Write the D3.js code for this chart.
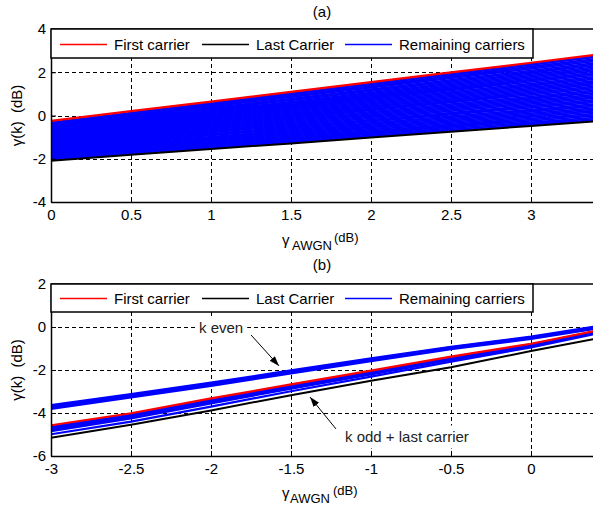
<!DOCTYPE html>
<html>
<head>
<meta charset="utf-8">
<script src="https://cdn.jsdelivr.net/npm/d3@7"></script>
<style>
  body { margin: 0; background: #fff; }
  svg { font-family: "Liberation Sans", Arial, sans-serif; }
</style>
</head>
<body>
<div id="chart"></div>
<script>
// ---- data ----
var legendLabels = ["First carrier", "Last Carrier", "Remaining carriers"];
var legendColors = ["#ff0000", "#000000", "#0000ff"];

// panel (a)
var topX = [0, 0.5, 1, 1.5, 2, 2.5, 3, 3.3875];
var topFirst = [-0.25, 0.2, 0.64, 1.09, 1.54, 1.99, 2.44, 2.79];
var topLast = [-2.09, -1.82, -1.55, -1.29, -1.02, -0.75, -0.48, -0.28];
// remaining carriers: value at x = 0 and at x = 3.3875
var topRemainingX = [0, 3.3875];
var topRemainingStart = [-2.05, -2.01, -1.97, -1.94, -1.90, -1.86, -1.83, -1.79, -1.75, -1.72,
  -1.68, -1.64, -1.61, -1.57, -1.53, -1.50, -1.46, -1.42, -1.39, -1.35,
  -1.31, -1.28, -1.24, -1.20, -1.17, -1.13, -1.09, -1.06, -1.02, -0.98,
  -0.95, -0.91, -0.87, -0.84, -0.80, -0.76, -0.73, -0.69, -0.65, -0.62,
  -0.58, -0.54, -0.51, -0.47, -0.43, -0.40, -0.36, -0.32];
var topRemainingEnd = [-0.22, -0.16, -0.10, -0.03, 0.03, 0.09, 0.16, 0.22, 0.28, 0.34,
  0.41, 0.47, 0.53, 0.60, 0.66, 0.72, 0.79, 0.85, 0.91, 0.97,
  1.04, 1.10, 1.16, 1.23, 1.29, 1.35, 1.42, 1.48, 1.54, 1.60,
  1.67, 1.73, 1.79, 1.86, 1.92, 1.98, 2.05, 2.11, 2.17, 2.23,
  2.30, 2.36, 2.42, 2.49, 2.55, 2.61, 2.68, 2.74];
var topXTicks = [0, 0.5, 1, 1.5, 2, 2.5, 3];
var topYTicks = [-4, -2, 0, 2, 4];

// panel (b)
var botX = [-3, -2.5, -2, -1.5, -1, -0.5, 0, 0.4];
var botFirst = [-4.57, -4.01, -3.32, -2.67, -2.03, -1.38, -0.78, -0.19];
var botLast = [-5.15, -4.55, -3.88, -3.17, -2.50, -1.87, -1.12, -0.55];
var botEven = [
  [-3.63, -3.12, -2.59, -2.02, -1.46, -0.92, -0.45, 0.02],
  [-3.69, -3.17, -2.64, -2.06, -1.50, -0.95, -0.48, -0.01],
  [-3.75, -3.22, -2.69, -2.11, -1.54, -0.99, -0.52, -0.05],
  [-3.81, -3.28, -2.74, -2.16, -1.59, -1.03, -0.55, -0.08]
];
var botOdd = [
  [-4.65, -4.08, -3.39, -2.73, -2.08, -1.42, -0.81, -0.21],
  [-4.70, -4.12, -3.43, -2.76, -2.11, -1.44, -0.83, -0.23],
  [-4.75, -4.16, -3.47, -2.80, -2.14, -1.47, -0.85, -0.24],
  [-4.80, -4.21, -3.51, -2.84, -2.18, -1.50, -0.88, -0.26],
  [-4.85, -4.25, -3.55, -2.87, -2.21, -1.53, -0.90, -0.28],
  [-4.99, -4.40, -3.70, -2.99, -2.31, -1.61, -0.95, -0.32]
];
var botXTicks = [-3, -2.5, -2, -1.5, -1, -0.5, 0];
var botYTicks = [-6, -4, -2, 0, 2];

// annotations in panel (b), data coordinates
var botNotes = [
  {text: "k even", tx: -2.075, ty: -0.28, x1: -1.75, y1: -0.37, x2: -1.575, y2: -1.81},
  {text: "k odd + last carrier", tx: -1.1625, ty: -5.37, x1: -1.219, y1: -4.74, x2: -1.381, y2: -3.26}
];

var svgWidth = 593;
var svgHeight = 510;

var svg = d3.select("#chart")
  .append("svg")
  .attr("width", svgWidth)
  .attr("height", svgHeight);

var defs = svg.append("defs");
defs.append("marker")
  .attr("id", "arrow")
  .attr("viewBox", "0 0 10 10")
  .attr("refX", 10)
  .attr("refY", 5)
  .attr("markerWidth", 10)
  .attr("markerHeight", 10)
  .attr("markerUnits", "userSpaceOnUse")
  .attr("orient", "auto")
  .append("path")
  .attr("d", "M0,1.5 L10,5 L0,8.5 Z")
  .attr("fill", "#000");

function drawPanel(p) {
  var left = 51, right = 593;
  var x = d3.scaleLinear().domain(p.xDomain).range([left, right]);
  var y = d3.scaleLinear().domain(p.yDomain).range([p.bottom, p.top]);

  var g = svg.append("g");

  defs.append("clipPath").attr("id", p.id + "clip")
    .append("rect")
    .attr("x", left).attr("y", p.top)
    .attr("width", right - left).attr("height", p.bottom - p.top);

  // title
  g.append("text")
    .attr("x", 322).attr("y", p.titleY)
    .attr("text-anchor", "middle")
    .attr("font-size", 15)
    .text(p.title);

  // grid
  var grid = g.append("g")
    .attr("stroke", "#000")
    .attr("stroke-width", 1)
    .attr("stroke-dasharray", "4,3")
    .attr("shape-rendering", "crispEdges");
  grid.selectAll(".vg")
    .data(p.xTicks.filter(d => d !== p.xDomain[0]))
    .enter().append("line")
    .attr("class", "vg")
    .attr("x1", d => Math.round(x(d)) + 0.5).attr("x2", d => Math.round(x(d)) + 0.5)
    .attr("y1", p.top).attr("y2", p.bottom);
  grid.selectAll(".hg")
    .data(p.yTicks.filter(d => d !== p.yDomain[0] && d !== p.yDomain[1]))
    .enter().append("line")
    .attr("class", "hg")
    .attr("x1", left).attr("x2", right)
    .attr("y1", d => Math.round(y(d)) + 0.5).attr("y2", d => Math.round(y(d)) + 0.5);

  // data lines
  var plot = g.append("g").attr("clip-path", "url(#" + p.id + "clip)");
  function lineFor(xs) {
    return d3.line().x((d, i) => x(xs[i])).y(d => y(d));
  }
  plot.selectAll(".blue")
    .data(p.blue)
    .enter().append("path")
    .attr("class", "blue")
    .attr("d", lineFor(p.blueX))
    .attr("fill", "none")
    .attr("stroke", "#0000ff")
    .attr("stroke-width", p.blueWidth);
  plot.append("path")
    .attr("d", lineFor(p.xs)(p.last))
    .attr("fill", "none").attr("stroke", "#000").attr("stroke-width", 2);
  plot.append("path")
    .attr("d", lineFor(p.xs)(p.first))
    .attr("fill", "none").attr("stroke", "#ff0000").attr("stroke-width", 2.2);

  // annotations (text sits on a white box that hides the grid)
  (p.notes || []).forEach(function(n) {
    var box = g.append("rect").attr("fill", "#fff");
    var t = g.append("text")
      .attr("x", x(n.tx)).attr("y", y(n.ty))
      .attr("font-size", 15)
      .attr("fill", "#222")
      .text(n.text);
    var bb = t.node().getBBox();
    box.attr("x", bb.x - 4).attr("y", bb.y - 3)
      .attr("width", bb.width + 8).attr("height", bb.height + 6);
    g.append("line")
      .attr("x1", x(n.x1)).attr("y1", y(n.y1))
      .attr("x2", x(n.x2)).attr("y2", y(n.y2))
      .attr("stroke", "#000").attr("stroke-width", 1)
      .attr("marker-end", "url(#arrow)");
  });

  // axes
  var xAxis = d3.axisBottom(x).tickValues(p.xTicks).tickSize(-5).tickSizeOuter(0)
    .tickPadding(7).tickFormat(d => String(d));
  var yAxis = d3.axisLeft(y).tickValues(p.yTicks).tickSize(-5).tickSizeOuter(0)
    .tickPadding(5).tickFormat(d => String(d));

  var gx = g.append("g")
    .attr("transform", `translate(0, ${p.bottom})`)
    .call(xAxis);
  var gy = g.append("g")
    .attr("transform", `translate(${left}, 0)`)
    .call(yAxis);
  [gx, gy].forEach(function(a) {
    a.selectAll("text").attr("font-size", 15).attr("fill", "#000")
      .attr("font-family", "Liberation Sans, Arial, sans-serif");
    a.select(".domain").attr("stroke-width", 1.5);
  });

  // top border
  g.append("line")
    .attr("x1", left).attr("x2", right)
    .attr("y1", p.top).attr("y2", p.top)
    .attr("stroke", "#000").attr("stroke-width", 1.5);

  // legend
  var lg = g.append("g");
  lg.append("rect")
    .attr("x", left).attr("y", p.top)
    .attr("width", 482).attr("height", p.legendH)
    .attr("fill", "#fff").attr("stroke", "#000").attr("stroke-width", 1.5);
  var itemX = [60, 202, 345];
  legendLabels.forEach(function(lbl, i) {
    var cy = Math.round(p.top + p.legendH / 2) + 0.5;
    lg.append("line")
      .attr("x1", itemX[i]).attr("x2", itemX[i] + 47)
      .attr("y1", cy).attr("y2", cy)
      .attr("stroke", legendColors[i]).attr("stroke-width", 1.5);
    lg.append("text")
      .attr("x", itemX[i] + 54).attr("y", cy + 5)
      .attr("font-size", 15)
      .text(lbl);
  });

  // y label
  g.append("text")
    .attr("transform", `translate(22, ${(p.top + p.bottom) / 2}) rotate(-90)`)
    .attr("text-anchor", "middle")
    .attr("font-size", 15)
    .style("white-space", "pre")
    .text("\u03b3(k)  (dB)");

  // x label
  var xl = g.append("text").attr("font-size", 15);
  xl.append("tspan").attr("x", 282).attr("y", p.xlabY).text("\u03b3");
  xl.append("tspan").attr("x", p.subX).attr("y", p.xlabY + 5).attr("font-size", 13).text("AWGN");
  xl.append("tspan").attr("x", p.dbX).attr("y", p.xlabY + p.dbDy).attr("font-size", 13).text("(dB)");
}

drawPanel({
  id: "a", title: "(a)", titleY: 17,
  top: 29, bottom: 202, legendH: 29,
  xDomain: [0, 3.3875], yDomain: [-4, 4],
  xTicks: topXTicks, yTicks: topYTicks,
  xs: topX, first: topFirst, last: topLast,
  blueX: topRemainingX,
  blue: topRemainingStart.map((s, i) => [s, topRemainingEnd[i]]),
  blueWidth: 1.8,
  xlabY: 245, subX: 292, dbX: 334, dbDy: -3
});

drawPanel({
  id: "b", title: "(b)", titleY: 270,
  top: 284, bottom: 456, legendH: 28,
  xDomain: [-3, 0.3875], yDomain: [-6, 2],
  xTicks: botXTicks, yTicks: botYTicks,
  xs: botX, first: botFirst, last: botLast,
  blueX: botX,
  blue: botEven.concat(botOdd),
  blueWidth: 2.2,
  notes: botNotes,
  xlabY: 498, subX: 290, dbX: 333, dbDy: -3
});
</script>
</body>
</html>
